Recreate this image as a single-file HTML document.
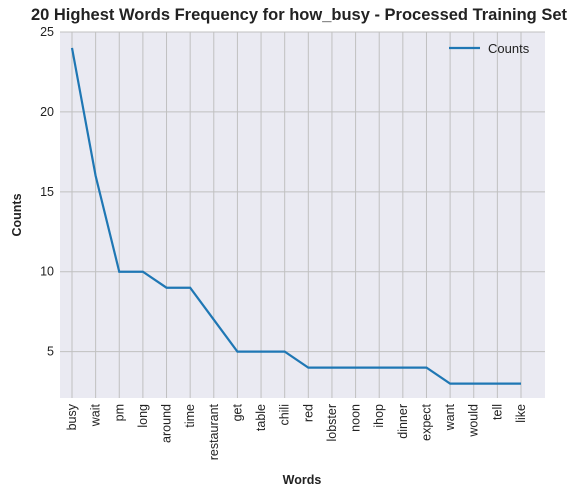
<!DOCTYPE html>
<html><head><meta charset="utf-8"><style>
body{margin:0;background:#fff;font-family:"Liberation Sans",sans-serif}
</style></head><body>
<svg id="c" width="578" height="497" xmlns="http://www.w3.org/2000/svg">
<text x="299" y="20" text-anchor="middle" font-size="16.5" font-weight="bold" fill="#222">20 Highest Words Frequency for how_busy - Processed Training Set</text>
<rect x="60" y="32" width="485" height="366" fill="#eaeaf2"/>
<g id="grid"></g>
<g id="ticks"></g>
<polyline id="line" fill="none" stroke="#1f77b4" stroke-width="2.2"/>
<text x="21" y="215" transform="rotate(-90 21 215)" text-anchor="middle" font-size="12.5" font-weight="bold" fill="#222">Counts</text>
<text x="302" y="484" text-anchor="middle" font-size="12.5" font-weight="bold" fill="#222">Words</text>
<g>
<line x1="449" y1="48" x2="480" y2="48" stroke="#1f77b4" stroke-width="2.2"/>
<text x="488" y="53" font-size="13" fill="#222">Counts</text>
</g>
</svg>
<script>
const categories=["busy","wait","pm","long","around","time","restaurant","get","table","chili","red","lobster","noon","ihop","dinner","expect","want","would","tell","like"];
const counts=[24,16,10,10,9,9,7,5,5,5,4,4,4,4,4,4,3,3,3,3];
const yTicks=[5,10,15,20,25];
const ns="http://www.w3.org/2000/svg";
const x0=72,x1=521,yTop=32,yBot=398,vTop=25,vBot=2.1;
const xs=i=>x0+(x1-x0)*i/(categories.length-1);
const ys=v=>yBot-(v-vBot)/(vTop-vBot)*(yBot-yTop);
const g=document.getElementById('grid'),t=document.getElementById('ticks');
function mk(tag,a,p){const e=document.createElementNS(ns,tag);for(const k in a)e.setAttribute(k,a[k]);p.appendChild(e);return e;}
categories.forEach((c,i)=>{
 const l=mk('line',{x1:xs(i),x2:xs(i),y1:yTop,y2:yBot,stroke:'#c0c0c0','stroke-width':1},g);
 
 
 const tx=mk('text',{x:0,y:0,'font-size':12.5,fill:'#222','text-anchor':'end',transform:`translate(${xs(i)+4},${yBot+6}) rotate(-90)`},t);
 tx.textContent=c;
 
 
});
yTicks.forEach(v=>{
 const l=mk('line',{x1:60,x2:545,y1:ys(v),y2:ys(v),stroke:'#c0c0c0','stroke-width':1},g);
 
 
 const tx=mk('text',{x:54,y:ys(v)+4,'font-size':12.5,fill:'#222','text-anchor':'end'},t);
 tx.textContent=v;
 
 
});
document.getElementById('line').setAttribute('points',counts.map((v,i)=>xs(i)+','+ys(v)).join(' '));
</script>
</body></html>
